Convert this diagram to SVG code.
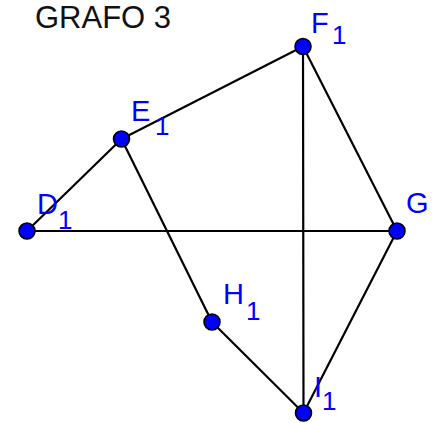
<svg xmlns="http://www.w3.org/2000/svg" width="432" height="423" viewBox="0 0 432 423">
<style>
.edge{stroke:#000;stroke-width:2.2;fill:none;stroke-linecap:round}
.node{fill:#0000ff;stroke:#000;stroke-width:1.6}
.lbl{font-family:"Liberation Sans",Arial,sans-serif;font-size:29px;fill:#0000ff}
.sub{font-family:"Liberation Sans",Arial,sans-serif;font-size:26px;fill:#0000ff}
.title{font-family:"Liberation Sans",Arial,sans-serif;font-size:31px;fill:#111}
</style>
<rect width="432" height="423" fill="#fff"/>
<text class="title" x="35" y="28">GRAFO 3</text>
<g id="connectors">
<line class="edge" x1="27" y1="231" x2="121.5" y2="139"/>
<line class="edge" x1="121.5" y1="139" x2="303" y2="46.5"/>
<line class="edge" x1="303" y1="46.5" x2="397" y2="231"/>
<line class="edge" x1="303" y1="46.5" x2="303.5" y2="413"/>
<line class="edge" x1="27" y1="231" x2="397" y2="231"/>
<line class="edge" x1="121.5" y1="139" x2="212" y2="322"/>
<line class="edge" x1="212" y1="322" x2="303.5" y2="413"/>
<line class="edge" x1="397" y1="231" x2="303.5" y2="413"/>
</g>
<g id="F1"><circle class="node" cx="303" cy="46.5" r="8"/><text class="lbl" x="311" y="33">F</text><text class="sub" x="332" y="44">1</text></g>
<g id="E1"><circle class="node" cx="121.5" cy="139" r="8"/><text class="lbl" x="131" y="121">E</text><text class="sub" x="155" y="135">1</text></g>
<g id="D1"><circle class="node" cx="27" cy="231" r="8"/><text class="lbl" x="37" y="214">D</text><text class="sub" x="58" y="229">1</text></g>
<g id="G"><circle class="node" cx="397" cy="231" r="8"/><text class="lbl" x="406" y="213">G</text></g>
<g id="H1"><circle class="node" cx="212" cy="322" r="8"/><text class="lbl" x="223" y="304">H</text><text class="sub" x="246" y="320">1</text></g>
<g id="I1"><circle class="node" cx="303.5" cy="413" r="8"/><text class="lbl" x="314" y="397">I</text><text class="sub" x="322" y="410">1</text></g>
</svg>
